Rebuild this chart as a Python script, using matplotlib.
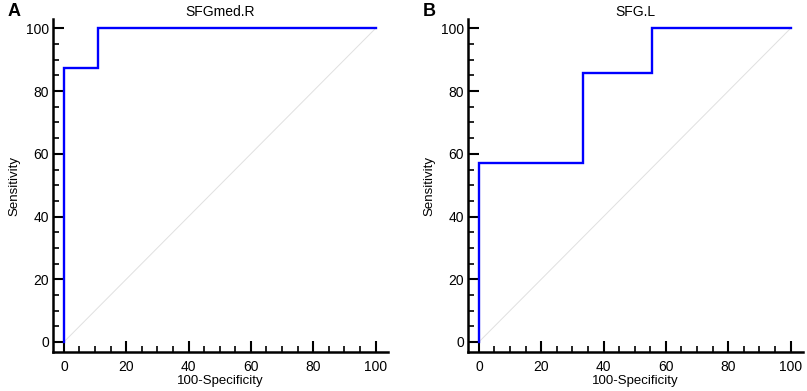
import matplotlib
matplotlib.use("Agg")
import matplotlib.pyplot as plt

plt.rcParams['font.family'] = ['Liberation Sans', 'DejaVu Sans']

# ROC curve points (100-Specificity, Sensitivity)
titles = ["SFGmed.R", "SFG.L"]
panel_labels = ["A", "B"]
fpr_a = [0, 0, 11.1, 11.1, 100]
tpr_a = [0, 87.5, 87.5, 100, 100]
fpr_b = [0, 0, 33.3, 33.3, 55.6, 55.6, 100]
tpr_b = [0, 57.1, 57.1, 85.7, 85.7, 100, 100]
curves = [(fpr_a, tpr_a), (fpr_b, tpr_b)]
major_ticks = [0, 20, 40, 60, 80, 100]
minor_ticks = list(range(0, 101, 5))

W, H = 807, 391
fig = plt.figure(figsize=(W / 100, H / 100), dpi=100)

lefts = [53, 468]
for i, (fx, ty) in enumerate(curves):
    left = lefts[i]
    ax = fig.add_axes([left / W, (H - 352) / H, 335 / W, (352 - 19) / H])
    ax.plot([0, 100], [0, 100], color="#e0e0e0", lw=0.7)
    ax.plot(fx, ty, color="#0000ff", lw=1.7, solid_joinstyle="miter")
    ax.set_xlim(-3.5, 104)
    ax.set_ylim(-3.2, 103)
    ax.spines["top"].set_visible(False)
    ax.spines["right"].set_visible(False)
    ax.spines["left"].set_linewidth(1.8)
    ax.spines["bottom"].set_linewidth(1.8)
    ax.set_xticks(major_ticks)
    ax.set_yticks(major_ticks)
    ax.set_xticks(minor_ticks, minor=True)
    ax.set_yticks(minor_ticks, minor=True)
    ax.tick_params(which="major", direction="in", length=8, width=1.5, labelsize=10)
    ax.tick_params(axis="x", which="major", pad=5.5)
    ax.tick_params(axis="y", which="major", pad=3)
    ax.tick_params(which="minor", direction="in", length=4, width=1.2)
    ax.set_xlabel("100-Specificity", fontsize=9.5, labelpad=1)
    ax.set_ylabel("Sensitivity", fontsize=9.5, labelpad=4)
    ax.set_title(titles[i], fontsize=10, pad=2)
    fig.text((left - 45) / W, 1 - 12 / H, panel_labels[i], fontsize=13, fontweight="bold",
             va="center", ha="left")

fig.savefig("out.png", dpi=100)
